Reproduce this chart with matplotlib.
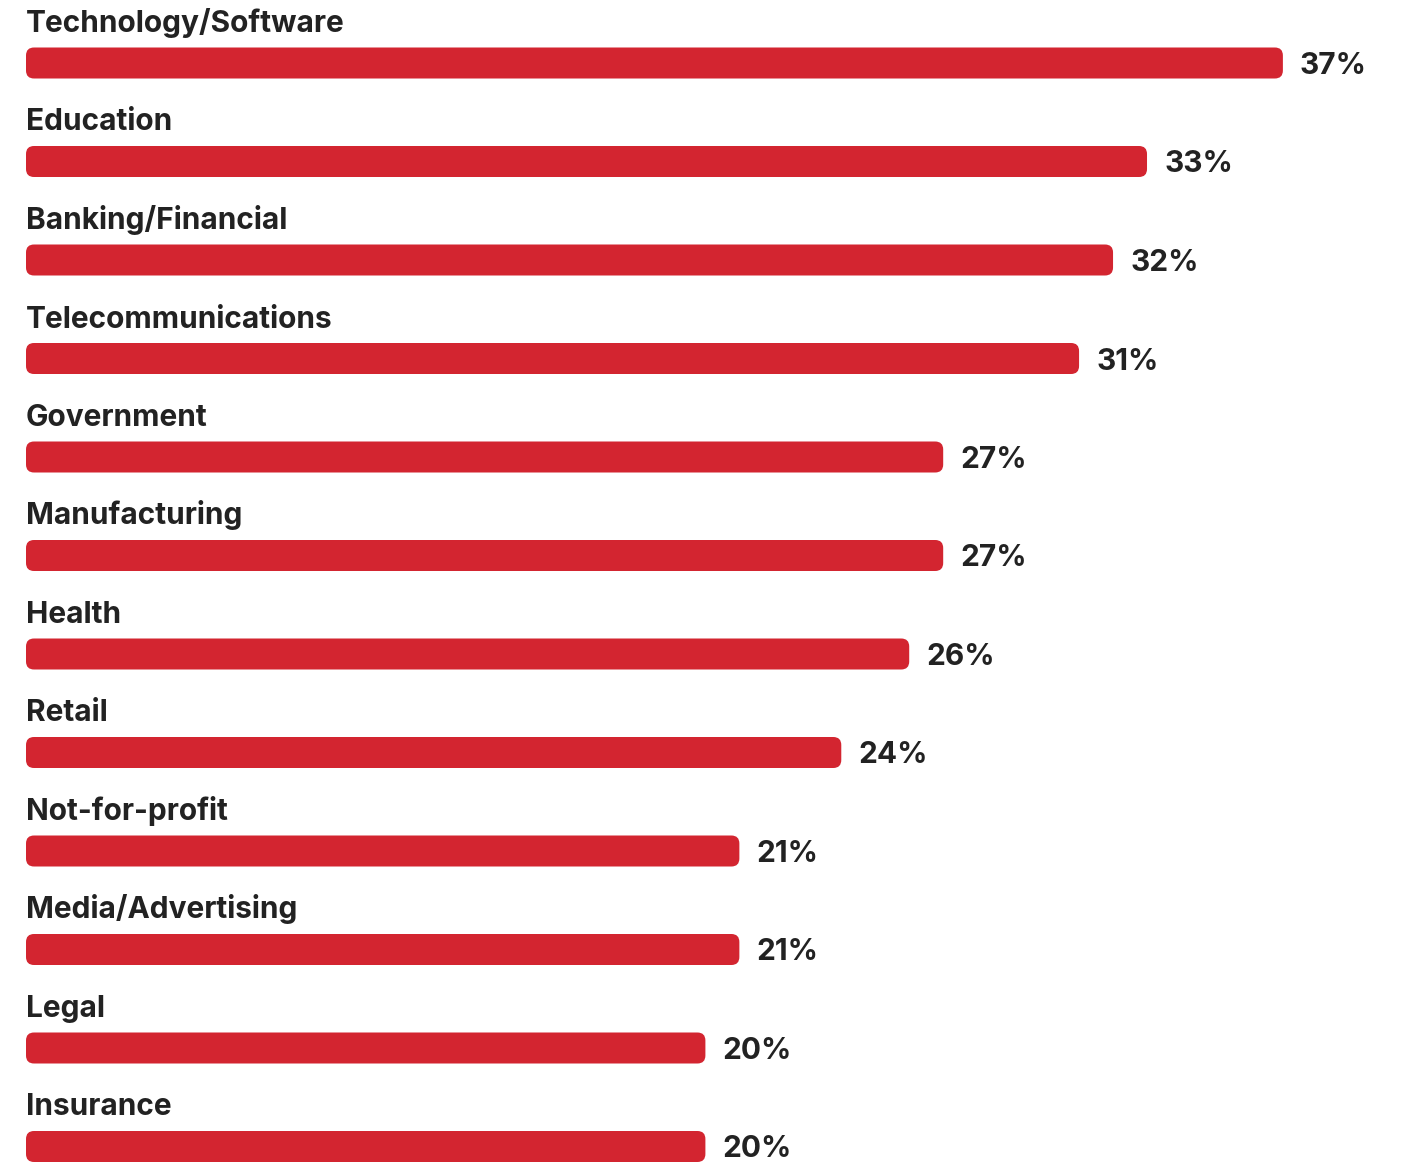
import matplotlib
matplotlib.use("Agg")
import matplotlib.pyplot as plt
from matplotlib.patches import FancyBboxPatch

categories = ["Technology/Software", "Education", "Banking/Financial", "Telecommunications",
              "Government", "Manufacturing", "Health", "Retail", "Not-for-profit",
              "Media/Advertising", "Legal", "Insurance"]
values = [37, 33, 32, 31, 27, 27, 26, 24, 21, 21, 20, 20]

W, H = 1401, 1163
fig = plt.figure(figsize=(W / 100, H / 100), dpi=100)
ax = fig.add_axes([0, 0, 1, 1])

px_x = 33.97   # px per percent
x0 = 26        # px for zero
y0 = 63        # px first bar center
dy = 98.5      # px per row
ax.set_xlim(-x0 / px_x, (W - x0) / px_x)
ax.set_ylim((H - y0) / dy, -y0 / dy)
ax.axis("off")

bar_color = "#D32530"
text_color = "#222222"
bar_h = 31 / dy
r_px = 8
rx = r_px / px_x
ry = r_px / dy

font = dict(family=["Inter", "DejaVu Sans"], fontweight="bold", color=text_color)

for i, (c, v) in enumerate(zip(categories, values)):
    p = FancyBboxPatch((0, i - bar_h / 2), v, bar_h,
                       boxstyle=f"round,pad=0,rounding_size={rx}",
                       mutation_aspect=ry / rx,
                       facecolor=bar_color, edgecolor="none")
    ax.add_patch(p)
    ax.text(0, i - 31 / dy, c, ha="left", va="baseline", fontsize=21.5, **font)
    ax.text(v + 17 / px_x, i, f"{v}%", ha="left", va="center_baseline", fontsize=21.5, **font)

fig.savefig("out.png", dpi=100, facecolor="white")
